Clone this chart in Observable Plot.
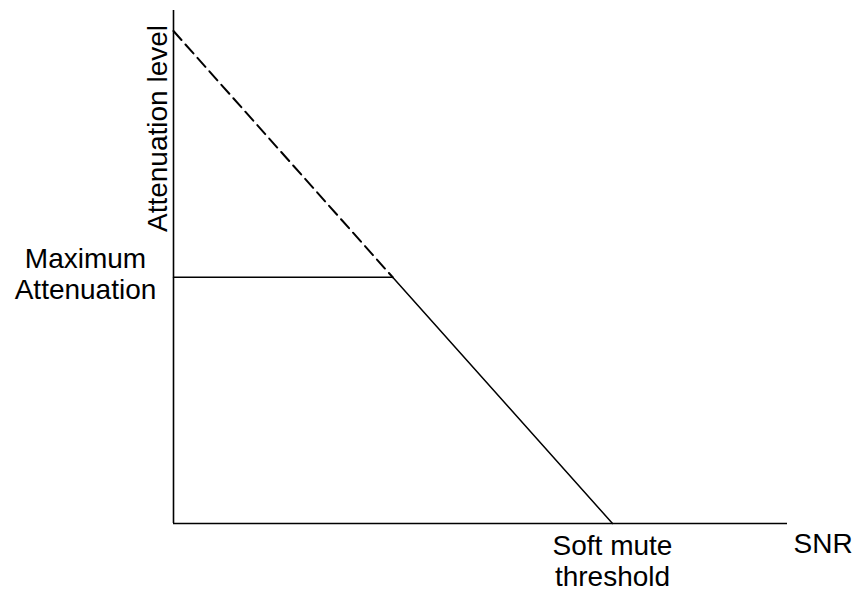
<!DOCTYPE html>
<html>
<head>
<meta charset="utf-8">
<script src="https://cdn.jsdelivr.net/npm/d3@7"></script>
<script src="https://cdn.jsdelivr.net/npm/@observablehq/plot@0.6"></script>
<style>
  html, body { margin: 0; padding: 0; background: #fff; }
  #chart svg { display: block; }
</style>
</head>
<body>
<div id="chart"></div>
<script>
// Data (arbitrary units: x = SNR, y = attenuation level)
const curveX = [0, 35.7, 71.5];      // solid: flat at max attenuation, then falling to threshold
const curveY = [48, 48, 0];
const dashX = [0, 35.7];             // dashed extension of the slope
const dashY = [96, 48];
const maxAtt = 48;
const threshold = 71.5;
const xMax = 100;
const yMax = 100;
const yLabel = "Attenuation level";
const xLabel = "SNR";
const maxLabel = "Maximum\nAttenuation";
const threshLabel = "Soft mute\nthreshold";

const solid = curveX.map((x, i) => ({x, y: curveY[i]}));
const dashed = dashX.map((x, i) => ({x, y: dashY[i]}));

const font = "Liberation Sans, Arial, sans-serif";
const fs = 28;

const chart = Plot.plot({
  width: 857,
  height: 592,
  marginLeft: 173,
  marginRight: 70,
  marginTop: 10,
  marginBottom: 69,
  x: {domain: [0, xMax], axis: null},
  y: {domain: [0, yMax], axis: null},
  style: {fontFamily: font, background: "#fff"},
  marks: [
    Plot.ruleX([0], {stroke: "black", strokeWidth: 1.6}),
    Plot.ruleY([0], {stroke: "black", strokeWidth: 1.6}),
    Plot.line(solid, {x: "x", y: "y", stroke: "black", strokeWidth: 1.5}),
    Plot.line(dashed, {x: "x", y: "y", stroke: "black", strokeWidth: 2, strokeDasharray: "12,6"}),
    Plot.text([yLabel], {x: 0, y: 77, text: d => d, rotate: -90, textAnchor: "middle", lineAnchor: "bottom", dx: -7, fontSize: fs, fill: "black"}),
    Plot.text([maxLabel], {x: 0, y: maxAtt, text: d => d, textAnchor: "middle", lineAnchor: "middle", lineHeight: 1.12, dx: -88, dy: -4, fontSize: fs, fill: "black"}),
    Plot.text([threshLabel], {x: threshold, y: 0, text: d => d, textAnchor: "middle", lineAnchor: "top", lineHeight: 1.1, dy: 10, fontSize: fs, fill: "black"}),
    Plot.text([xLabel], {x: xMax, y: 0, text: d => d, textAnchor: "start", lineAnchor: "top", dx: 6, dy: 10, fontSize: fs, fill: "black"})
  ]
});
document.getElementById("chart").appendChild(chart);
</script>
</body>
</html>
